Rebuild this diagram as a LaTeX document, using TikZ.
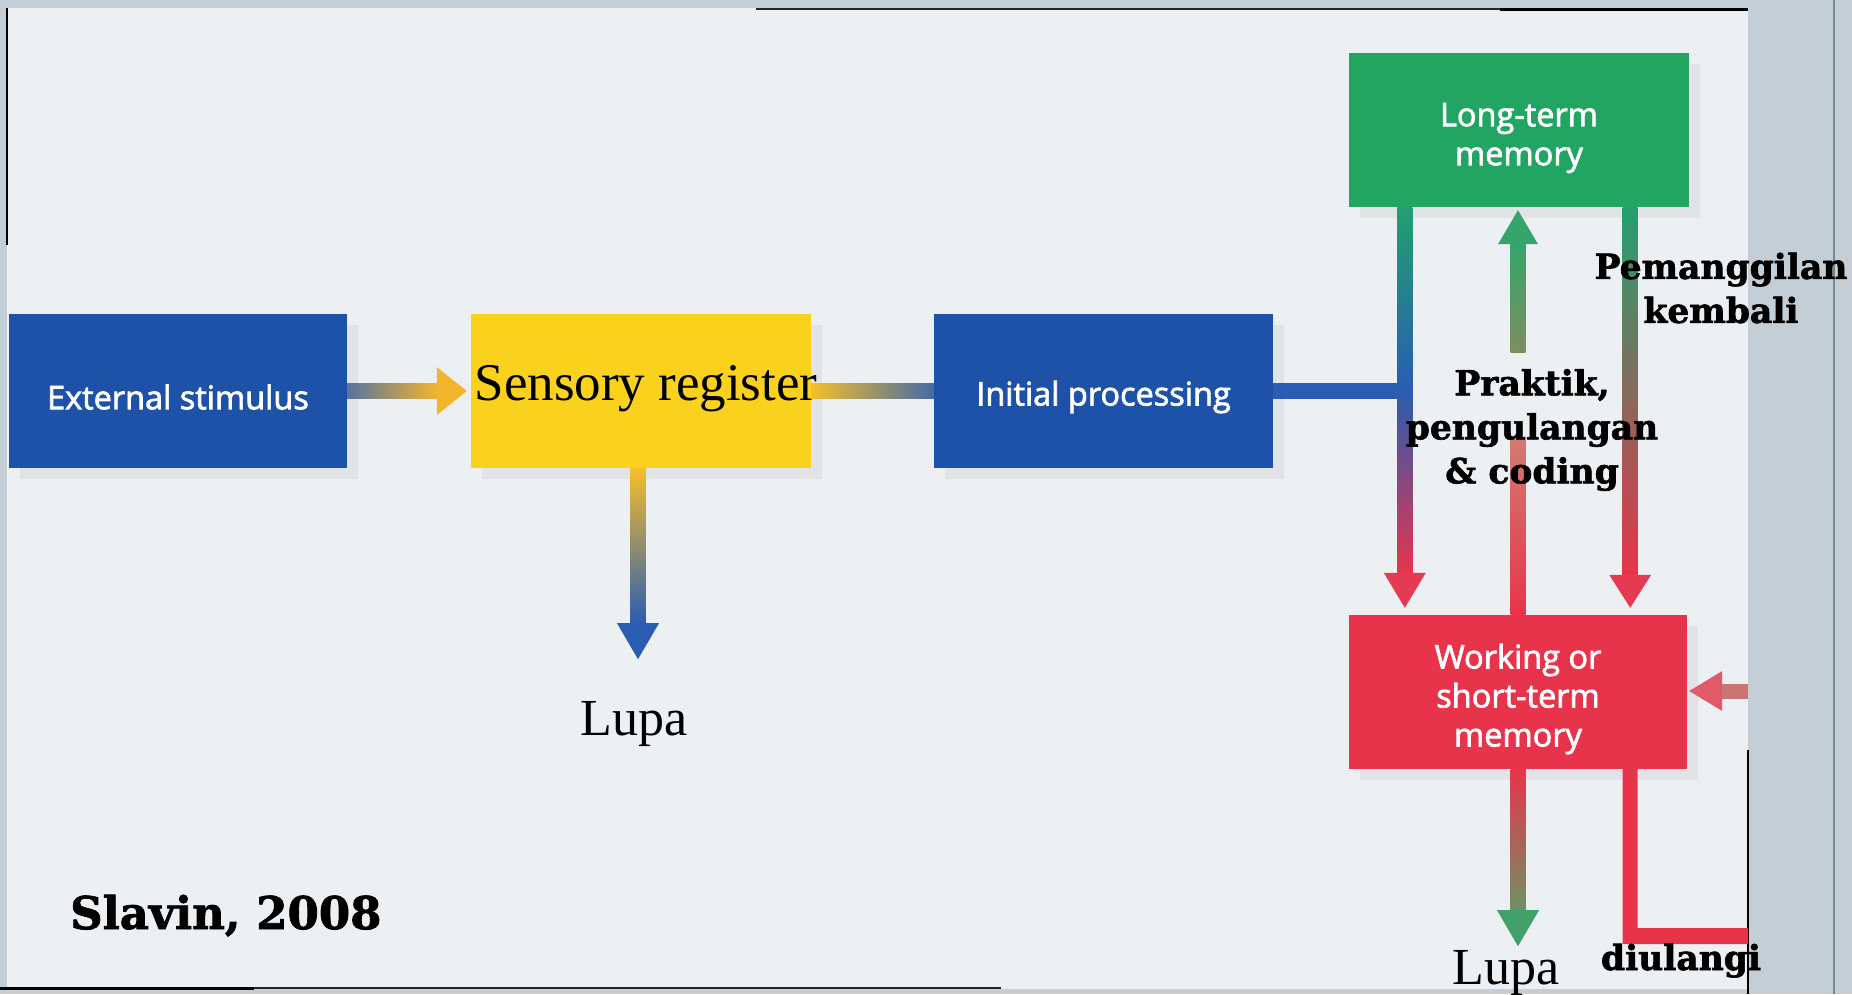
\documentclass[tikz,border=0pt]{standalone}
\usepackage{fontspec}
\setmainfont{Liberation Serif}
\newfontfamily\boxfont[FakeBold=2.2]{Open Sans}
\newfontfamily\labfont[BoldFeatures={FakeBold=1.8}]{DejaVu Serif}
\usetikzlibrary{calc,shadows}

\definecolor{pagebg}{HTML}{EDF0F3}
\definecolor{stripbg}{HTML}{C4CED6}
\definecolor{stripline}{HTML}{6F8A90}
\definecolor{boxblue}{HTML}{1E52A8}
\definecolor{boxyellow}{HTML}{FAD21E}
\definecolor{boxgreen}{HTML}{22A463}
\definecolor{boxred}{HTML}{E8344B}
\definecolor{shaftblue}{HTML}{2A5CB2}
\definecolor{shaftgrey}{HTML}{58739F}
\definecolor{shaftorange}{HTML}{EBAA32}
\definecolor{headorange}{HTML}{F2B62E}
\definecolor{shaftyellow}{HTML}{F4BF2A}
\definecolor{shaftgreen}{HTML}{22A070}
\definecolor{shaftpurple}{HTML}{7A4C9C}
\definecolor{shaftolive}{HTML}{7C8E60}
\definecolor{shaftrose}{HTML}{D27A70}
\definecolor{shafttaupe}{HTML}{A88470}
\definecolor{headred}{HTML}{E63A52}
\definecolor{headgreen}{HTML}{35A56C}
\definecolor{returnshaft}{HTML}{C97672}
\definecolor{returnhead}{HTML}{E25A6A}

\begin{document}
\begin{tikzpicture}[x=1pt,y=-1pt,
  box/.style={rectangle, minimum width=340pt, minimum height=154pt,
    inner sep=0pt,
    drop shadow={opacity=0.11, shadow xshift=11pt, shadow yshift=-11pt}},
  box text/.style={inner sep=0pt, text=white, align=center,
    font=\boxfont\fontsize{32.5}{39}\selectfont},
  serif label/.style={inner sep=0pt, font=\fontsize{52}{60}\selectfont},
  bold label/.style={inner sep=0pt, align=center,
    font=\labfont\bfseries\fontsize{34.5}{44}\selectfont}]

\useasboundingbox (0,0) rectangle (1852,994);

% scanned page and its margins
\fill[stripbg] (0,0) rectangle (1852,994);
\fill[pagebg] (7,8) rectangle (1748,989);
\draw[stripline, line width=2pt] (1834,0) -- (1834,994);
\draw[black, line width=1.5pt] (7,8) -- (7,245);
\draw[black!85, line width=1.5pt] (756,9) -- (1748,9);
\draw[black, line width=3pt] (1500,9) -- (1748,9);
\draw[black, line width=3pt] (0,988) -- (254,988);
\draw[black!85, line width=1.5pt] (254,988) -- (1001,988);
\draw[black, line width=1.5pt] (1748,750) -- (1748,994);

% stages
\node[box, fill=boxblue, minimum width=338pt] (ext) at (178,391) {};
\node[box, fill=boxyellow] (sens) at (641,391) {};
\node[box, fill=boxblue, minimum width=339pt] (init) at (1103.5,391) {};
\node[box, fill=boxgreen] (ltm) at (1519,130) {};
\node[box, fill=boxred, minimum width=338pt] (wm) at (1518,692) {};

\node[box text] (extText) at ($(ext.center)+(0,6)$) {External stimulus};
\node[inner sep=0pt, font=\fontsize{53}{60}\selectfont] (sensText) at ($(sens.center)+(5,-2)$) {Sensory register};
\node[box text] (initText) at ($(init.center)+(0,6)$) {Initial processing};
\node[box text] (ltmText) at ($(ltm.center)+(0,8)$) {Long-term\\memory};
\node[box text] (wmText) at ($(wm.center)+(0,7)$) {Working or\\short-term\\memory};

% external stimulus -> sensory register
\coordinate (a1b) at ($(sens.west)+(-34,0)$);
\shade[left color=shaftgrey, middle color=shaftorange, right color=headorange]
  ($(ext.east)+(0,-7.5)$) rectangle ($(a1b)+(1,7.5)$);
\fill[headorange] ($(a1b)+(0,-24)$) -- ($(sens.west)+(-4,0)$) -- ($(a1b)+(0,24)$) -- cycle;

% sensory register -> initial processing
\shade[left color=shaftyellow, middle color=shaftorange!70!shaftgrey, right color=shaftgrey!60!shaftblue]
  ($(sens.east)+(0,-7.5)$) rectangle ($(init.west)+(0,7.5)$);

% sensory register -> forgetting
\coordinate (d1s) at ($(sens.south)+(-3,0)$);
\coordinate (d1b) at ($(sens.south)+(-3,155)$);
\coordinate (d1t) at ($(sens.south)+(-3,191)$);
\shade[top color=shaftyellow, middle color=shaftgrey!80!shaftyellow, bottom color=shaftblue]
  ($(d1s)+(-7.5,0)$) rectangle ($(d1b)+(7.5,1)$);
\fill[shaftblue] ($(d1b)+(-21,0)$) -- (d1t) -- ($(d1b)+(21,0)$) -- cycle;

% initial processing and long-term memory -> working memory
\coordinate (jx) at ($(ltm.south west)+(56,0)$);
\coordinate (jn) at (jx |- init.east);
\coordinate (lhb) at ($(jx |- wm.north)+(0,-42)$);
\coordinate (lht) at ($(jx |- wm.north)+(0,-7)$);
\fill[shaftblue] ($(init.east)+(0,-8)$) rectangle ($(jn)+(0,8)$);
\shade[top color=shaftgreen, bottom color=shaftblue]
  ($(jx)+(-7.5,0)$) rectangle ($(jn)+(7.5,0)$);
\shade[top color=shaftblue, middle color=shaftpurple, bottom color=boxred]
  ($(jn)+(-7.5,-0.5)$) rectangle ($(lhb)+(7.5,1)$);
\fill[headred] ($(lhb)+(-21,0)$) -- (lht) -- ($(lhb)+(21,0)$) -- cycle;

% working memory -> long-term memory (rehearsal), broken under its label
\coordinate (mtip) at ($(ltm.south)+(-1,3)$);
\coordinate (mhb) at ($(ltm.south)+(-1,37)$);
\coordinate (mgapT) at ($(ltm.south)+(-1,145)$);
\coordinate (mgapB) at ($(wm.north)+(0,-175)$);
\shade[top color=headgreen, bottom color=shaftolive]
  ($(mhb)+(-7.5,-1)$) rectangle ($(mgapT)+(7.5,0)$);
\shade[top color=shaftrose, bottom color=boxred]
  ($(mgapB)+(-7.5,0)$) rectangle ($(wm.north)+(7.5,0)$);
\fill[headgreen] ($(mhb)+(-20,0)$) -- (mtip) -- ($(mhb)+(20,0)$) -- cycle;

% long-term memory -> working memory (retrieval)
\coordinate (rx) at ($(ltm.south east)+(-59,0)$);
\coordinate (rhb) at ($(rx |- wm.north)+(0,-40)$);
\coordinate (rht) at ($(rx |- wm.north)+(0,-7)$);
\shade[top color=shaftgreen, middle color=shafttaupe, bottom color=boxred]
  ($(rx)+(-7.5,0)$) rectangle ($(rhb)+(7.5,1)$);
\fill[headred] ($(rhb)+(-21,0)$) -- (rht) -- ($(rhb)+(21,0)$) -- cycle;

% working memory -> forgetting
\coordinate (fb) at ($(wm.south)+(0,141)$);
\coordinate (ft) at ($(wm.south)+(0,177)$);
\shade[top color=boxred, middle color=boxred!75!shaftolive, bottom color=shaftolive!80!headgreen]
  ($(wm.south)+(-7.5,0)$) rectangle ($(fb)+(7.5,1)$);
\fill[headgreen!85!shaftolive] ($(fb)+(-21,0)$) -- (ft) -- ($(fb)+(21,0)$) -- cycle;

% working memory -> repetition loop
\coordinate (loopS) at (rx |- wm.south);
\coordinate (loopE) at (1748,936);
\fill[boxred] ($(loopS)+(-7.5,0)$) |- ($(loopE)+(0,8)$) -- ($(loopE)+(0,-8)$) -| ($(loopS)+(7.5,0)$) -- cycle;

% loop returning into working memory
\coordinate (retS) at (1748,691);
\coordinate (retB) at ($(wm.east)+(35,-1)$);
\coordinate (retT) at ($(wm.east)+(2,-1)$);
\fill[returnshaft] ($(retS)+(0,-7.5)$) rectangle ($(retB)+(-1,7.5)$);
\fill[returnhead] ($(retB)+(0,-20)$) -- (retT) -- ($(retB)+(0,20)$) -- cycle;

% labels, set over the connectors
\node[serif label, anchor=base] (lupaA) at (634,735) {Lupa};
\node[serif label, anchor=base] (lupaB) at (1506,984) {Lupa};
\node[bold label] (recall) at (1721,288) {Pemanggilan\\kembali};
\node[bold label] (rehearse) at (1532,430) {Praktik,\\pengulangan\\\& coding};
\node[bold label, anchor=base] (repeat) at (1681,970) {diulangi};
\node[inner sep=0pt, anchor=base west, font=\labfont\bfseries\fontsize{45}{50}\selectfont] (cite) at (70,929) {Slavin, 2008};
\end{tikzpicture}
\end{document}
